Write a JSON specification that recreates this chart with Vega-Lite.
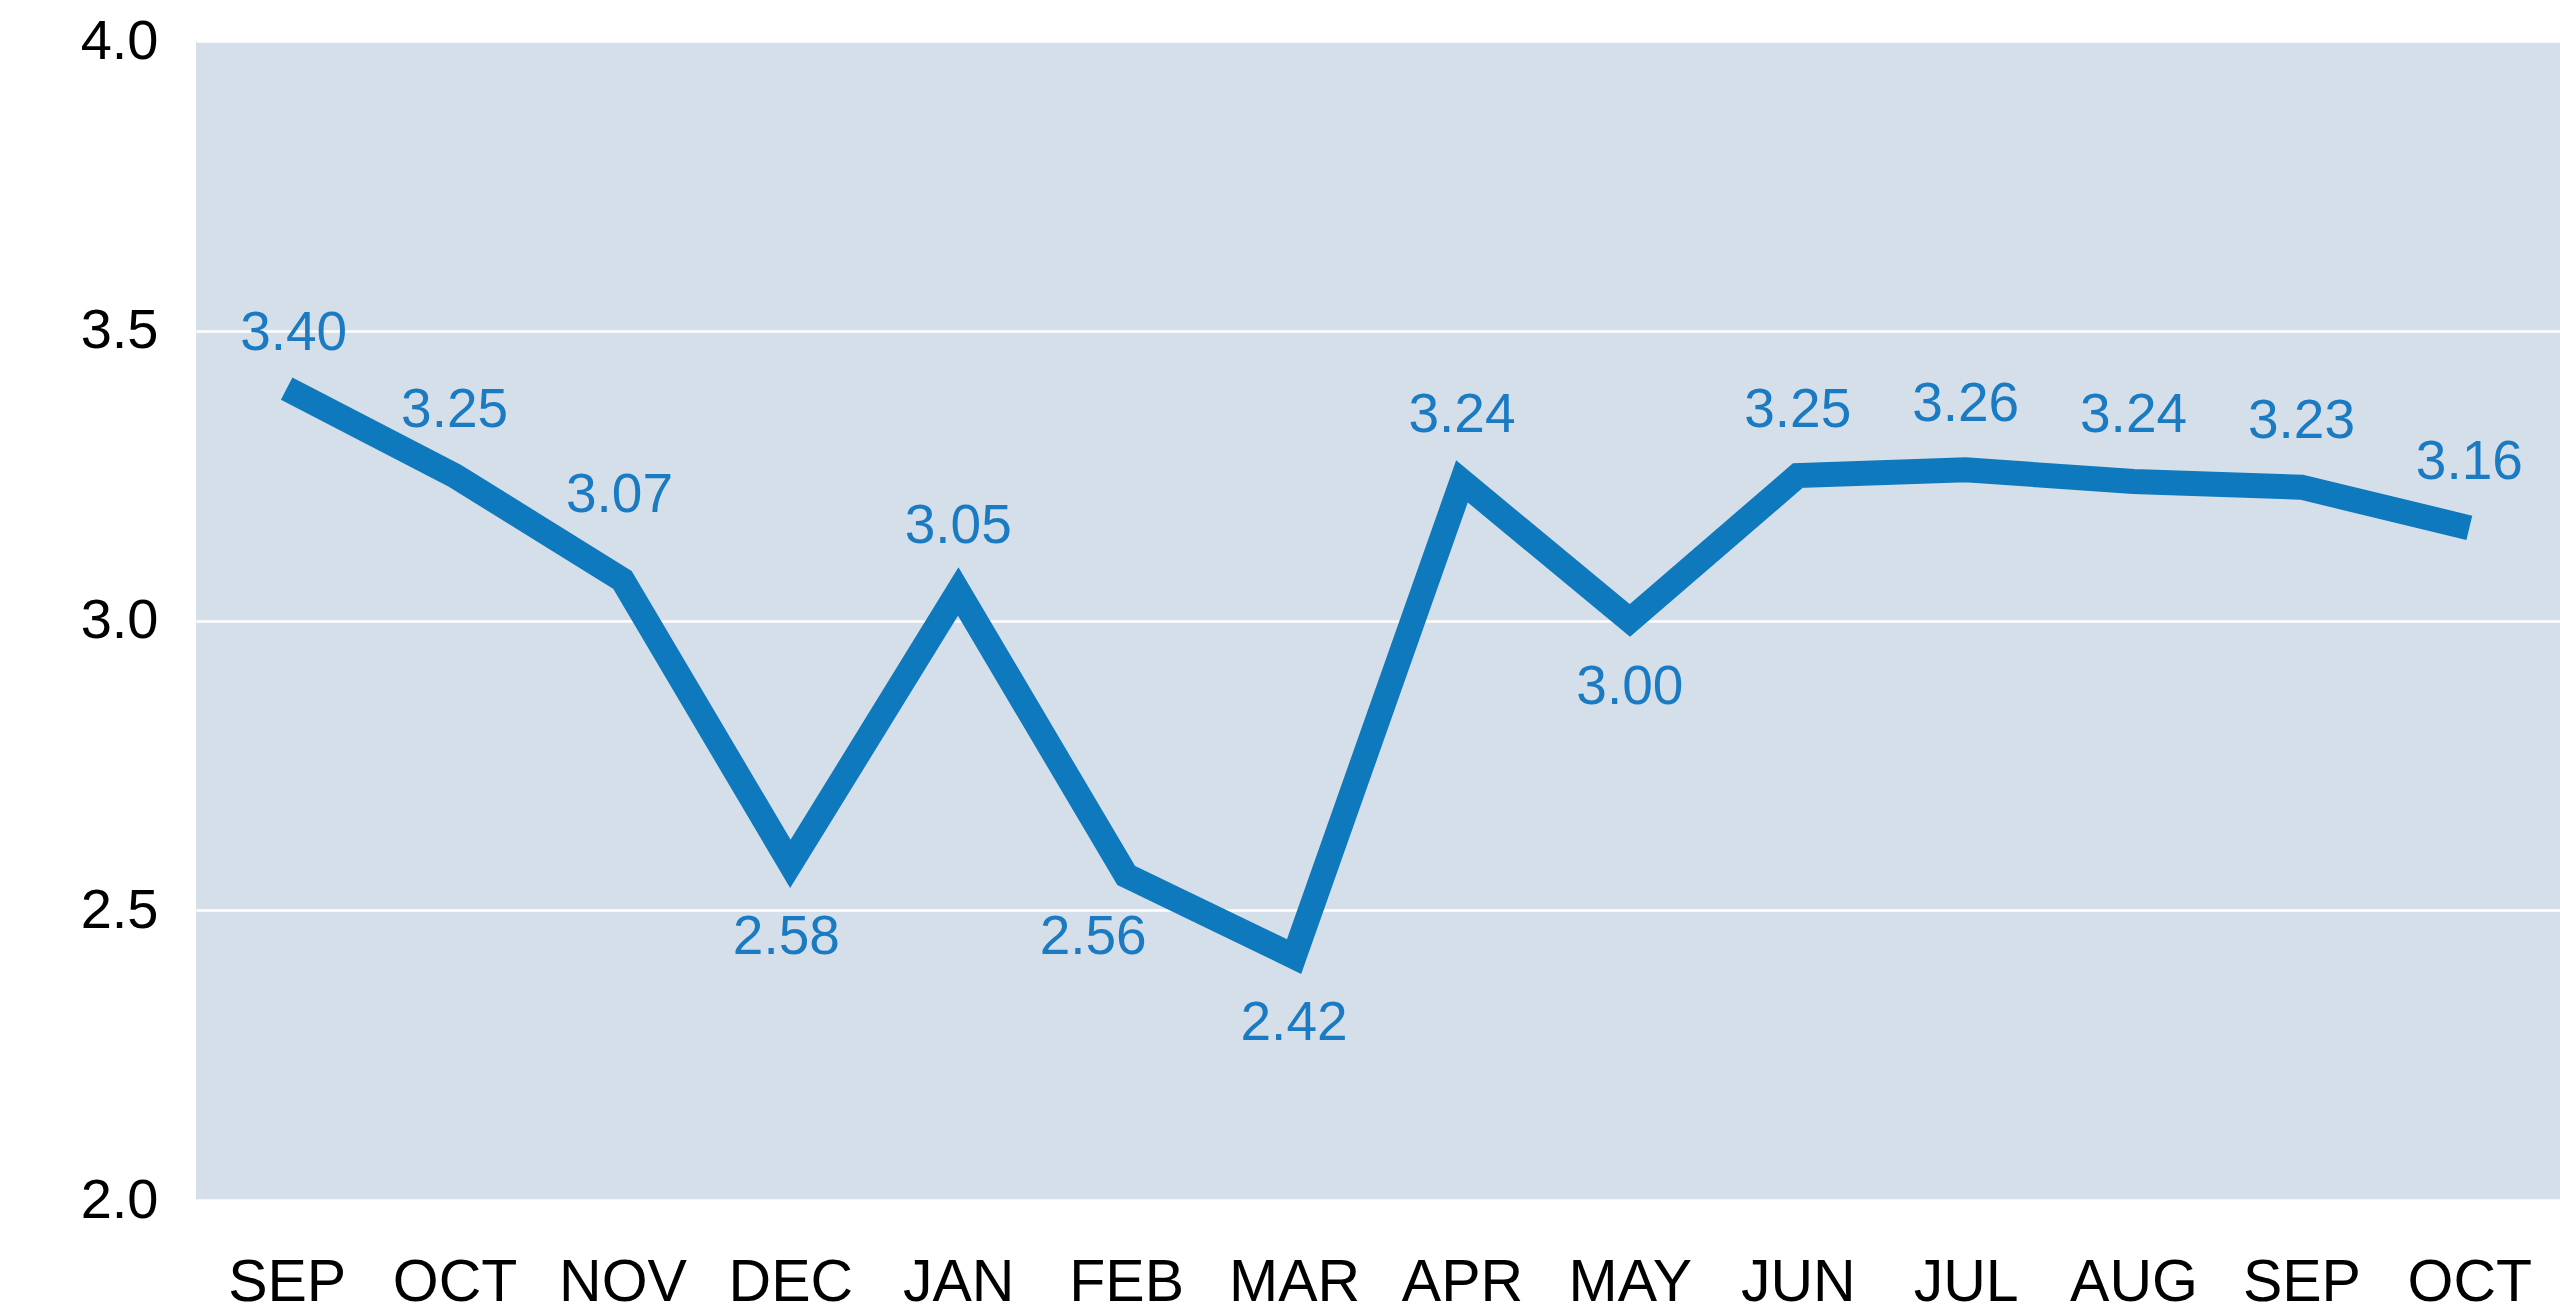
{
  "$schema": "https://vega.github.io/schema/vega-lite/v6.json",
  "width": 2364,
  "height": 1159,
  "autosize": {"type": "none"},
  "padding": {"left": 196, "top": 41, "right": 0, "bottom": 115},
  "background": "white",
  "config": {
    "font": "Liberation Sans",
    "view": {"fill": "#d5dfe9", "stroke": null}
  },
  "data": {
    "values": [
      {"key": "SEP-1", "value": 3.40},
      {"key": "OCT-1", "value": 3.25},
      {"key": "NOV-1", "value": 3.07},
      {"key": "DEC-1", "value": 2.58},
      {"key": "JAN-2", "value": 3.05},
      {"key": "FEB-2", "value": 2.56},
      {"key": "MAR-2", "value": 2.42},
      {"key": "APR-2", "value": 3.24},
      {"key": "MAY-2", "value": 3.00},
      {"key": "JUN-2", "value": 3.25},
      {"key": "JUL-2", "value": 3.26},
      {"key": "AUG-2", "value": 3.24},
      {"key": "SEP-2", "value": 3.23},
      {"key": "OCT-2", "value": 3.16}
    ]
  },
  "encoding": {
    "x": {
      "field": "key",
      "type": "ordinal",
      "sort": null,
      "scale": {"type": "point", "padding": 0.54},
      "axis": {
        "title": null,
        "labelAngle": 0,
        "labelExpr": "split(datum.value, '-')[0]",
        "labelFontSize": 59,
        "labelColor": "black",
        "labelPadding": 53,
        "ticks": false,
        "domain": false,
        "grid": false
      }
    },
    "y": {
      "field": "value",
      "type": "quantitative",
      "scale": {"domain": [2, 4], "nice": false, "zero": false},
      "axis": {
        "title": null,
        "values": [2, 2.5, 3, 3.5, 4],
        "format": ".1f",
        "labelFontSize": 56,
        "labelColor": "black",
        "labelPadding": 38,
        "ticks": false,
        "domain": false,
        "grid": true,
        "gridColor": "white",
        "gridWidth": 2.5
      }
    }
  },
  "layer": [
    {
      "mark": {
        "type": "line",
        "color": "#0f79be",
        "strokeWidth": 25,
        "strokeJoin": "miter",
        "strokeCap": "butt"
      }
    },
    {
      "transform": [
        {"filter": "indexof(['DEC-1', 'FEB-2', 'MAR-2', 'MAY-2', 'SEP-1', 'NOV-1'], datum.key) < 0"}
      ],
      "mark": {"type": "text", "fontSize": 55, "color": "#1a7bc3", "baseline": "middle", "dy": -66},
      "encoding": {"text": {"field": "value", "type": "quantitative", "format": ".2f"}}
    },
    {
      "transform": [{"filter": "datum.key == 'SEP-1'"}],
      "mark": {"type": "text", "fontSize": 55, "color": "#1a7bc3", "baseline": "middle", "dy": -56, "dx": 7},
      "encoding": {"text": {"field": "value", "type": "quantitative", "format": ".2f"}}
    },
    {
      "transform": [{"filter": "datum.key == 'NOV-1'"}],
      "mark": {"type": "text", "fontSize": 55, "color": "#1a7bc3", "baseline": "middle", "dy": -85, "dx": -3},
      "encoding": {"text": {"field": "value", "type": "quantitative", "format": ".2f"}}
    },
    {
      "transform": [{"filter": "indexof(['MAR-2', 'MAY-2'], datum.key) >= 0"}],
      "mark": {"type": "text", "fontSize": 55, "color": "#1a7bc3", "baseline": "middle", "dy": 66, "dx": 0},
      "encoding": {"text": {"field": "value", "type": "quantitative", "format": ".2f"}}
    },
    {
      "transform": [{"filter": "datum.key == 'DEC-1'"}],
      "mark": {"type": "text", "fontSize": 55, "color": "#1a7bc3", "baseline": "middle", "dy": 73, "dx": -4},
      "encoding": {"text": {"field": "value", "type": "quantitative", "format": ".2f"}}
    },
    {
      "transform": [{"filter": "datum.key == 'FEB-2'"}],
      "mark": {"type": "text", "fontSize": 55, "color": "#1a7bc3", "baseline": "middle", "dy": 62, "dx": -33},
      "encoding": {"text": {"field": "value", "type": "quantitative", "format": ".2f"}}
    }
  ]
}
